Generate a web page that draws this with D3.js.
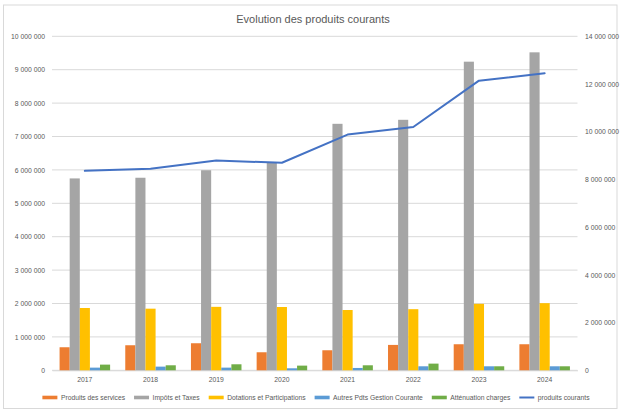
<!DOCTYPE html>
<html><head><meta charset="utf-8">
<script src="https://cdn.jsdelivr.net/npm/d3@7"></script>
<style>body{margin:0;background:#fff}svg{display:block}text{font-family:"Liberation Sans",Arial,sans-serif;fill:#595959}</style>
</head><body>
<svg id="c" width="620" height="410"></svg>
<script>
const years = ["2017","2018","2019","2020","2021","2022","2023","2024"];
const produitsServices = [690000, 750000, 810000, 540000, 600000, 760000, 780000, 780000];
const impotsTaxes = [5745000, 5765000, 5990000, 6210000, 7380000, 7500000, 9240000, 9520000];
const dotations = [1865000, 1845000, 1900000, 1895000, 1805000, 1830000, 1990000, 2010000];
const autresPdts = [80000, 110000, 80000, 60000, 70000, 120000, 120000, 120000];
const attenuation = [170000, 150000, 180000, 140000, 150000, 200000, 120000, 120000];
const produitsCourants = [8360000, 8450000, 8790000, 8700000, 9880000, 10200000, 12140000, 12450000];
const leftTicks = [0,1000000,2000000,3000000,4000000,5000000,6000000,7000000,8000000,9000000,10000000];
const rightTicks = [0,2000000,4000000,6000000,8000000,10000000,12000000,14000000];

const barSeries = [
  {name:"Produits des services", values:produitsServices, color:"#ED7D31"},
  {name:"Impôts et Taxes", values:impotsTaxes, color:"#A5A5A5"},
  {name:"Dotations et Participations", values:dotations, color:"#FFC000"},
  {name:"Autres Pdts Gestion Courante", values:autresPdts, color:"#5B9BD5"},
  {name:"Atténuation charges", values:attenuation, color:"#70AD47"}
];
const lineSeries = {name:"produits courants", values:produitsCourants, color:"#4472C4"};

const svg = d3.select("#c");
const m = {l:52, r:577.5, t:36.3, b:370.3};
const fmt = v => d3.format(",")(v).replace(/,/g, " ");
const FONT = '"Liberation Sans",Arial,sans-serif';

svg.append("rect").attr("x",3.5).attr("y",5).attr("width",613.5).attr("height",403.5)
  .attr("fill","#fff").attr("stroke","#d9d9d9").attr("stroke-width",1);

svg.append("text").attr("x",313).attr("y",23).attr("text-anchor","middle")
  .style("font-size","11px").text("Evolution des produits courants");

const x = d3.scaleBand().domain(years).range([m.l, m.r]).paddingInner(0).paddingOuter(0);
const inner = d3.scaleBand().domain(barSeries.map(s=>s.name)).range([0, x.bandwidth()]).paddingInner(0).paddingOuter(0.75);
const yL = d3.scaleLinear().domain([0,10000000]).range([m.b, m.t]);
const yR = d3.scaleLinear().domain([0,14000000]).range([m.b, m.t]);

// gridlines
svg.append("g").selectAll("line").data(leftTicks).join("line")
  .attr("x1",m.l).attr("x2",m.r).attr("y1",d=>yL(d)).attr("y2",d=>yL(d))
  .attr("stroke","#d9d9d9").attr("stroke-width",1);

// left axis
const gL = svg.append("g").attr("transform",`translate(${m.l},0)`)
  .call(d3.axisLeft(yL).tickValues(leftTicks).tickFormat(fmt).tickSize(0).tickPadding(7));
gL.select(".domain").remove();
gL.selectAll("text").style("font-size","6.8px").style("font-family",FONT).attr("fill","#595959");

// right axis
const gR = svg.append("g").attr("transform",`translate(${m.r},0)`)
  .call(d3.axisRight(yR).tickValues(rightTicks).tickFormat(fmt).tickSize(0).tickPadding(7.5));
gR.select(".domain").remove();
gR.selectAll("text").style("font-size","6.8px").style("font-family",FONT).attr("fill","#595959");

// bottom axis
const gB = svg.append("g").attr("transform",`translate(0,${m.b})`)
  .call(d3.axisBottom(x).tickSize(0).tickPadding(7));
gB.select(".domain").attr("stroke","#d9d9d9");
gB.selectAll("text").style("font-size","6.8px").style("font-family",FONT).attr("fill","#595959");

// bars
barSeries.forEach(s => {
  svg.append("g").selectAll("rect").data(s.values).join("rect")
    .attr("x",(d,i)=>x(years[i]) + inner(s.name))
    .attr("width",inner.bandwidth())
    .attr("y",d=>yL(d))
    .attr("height",d=>yL(0)-yL(d))
    .attr("fill",s.color);
});

// line
const line = d3.line().x((d,i)=>x(years[i]) + x.bandwidth()/2).y(d=>yR(d));
svg.append("path").datum(lineSeries.values).attr("d",line)
  .attr("fill","none").attr("stroke",lineSeries.color).attr("stroke-width",2).attr("stroke-linejoin","round").attr("stroke-linecap","round");

// legend
const items = [...barSeries.map(s=>({name:s.name,color:s.color,type:"bar"})), {name:lineSeries.name,color:lineSeries.color,type:"line"}];
const lg = svg.append("g");
const swW = 15, swGap = 3.5, itemGap = 9, ly = 397.5;
let cx = 0;
items.forEach(it => {
  const g = lg.append("g").attr("transform",`translate(${cx},0)`);
  if (it.type==="bar") g.append("rect").attr("x",0).attr("y",ly-1.8).attr("width",swW).attr("height",3.6).attr("fill",it.color);
  else g.append("line").attr("x1",0).attr("x2",swW).attr("y1",ly).attr("y2",ly).attr("stroke",it.color).attr("stroke-width",2);
  const t = g.append("text").attr("x",swW+swGap).attr("y",ly+2.3).style("font-size","6.75px").text(it.name);
  cx += swW + swGap + t.node().getComputedTextLength() + itemGap;
});
const total = cx - itemGap;
lg.attr("transform",`translate(${316 - total/2},0)`);
</script>
</body></html>
